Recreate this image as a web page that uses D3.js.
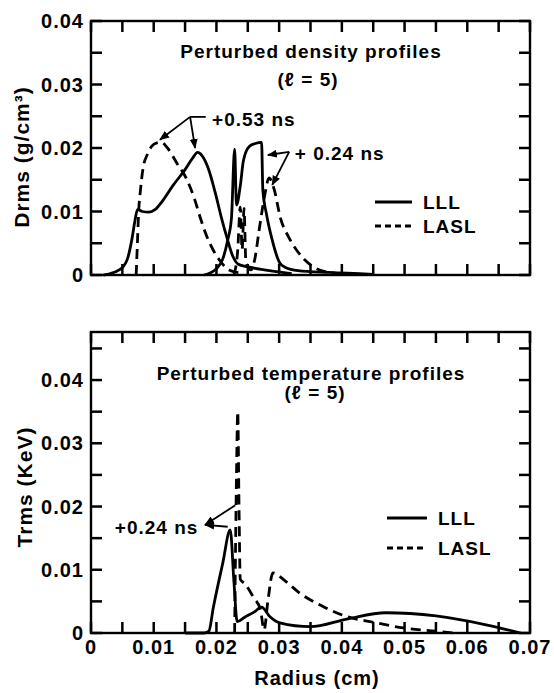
<!DOCTYPE html>
<html>
<head>
<meta charset="utf-8">
<script src="https://cdn.jsdelivr.net/npm/d3@7"></script>
<style>
  body { margin: 0; background: #fff; }
  text { font-family: "Liberation Sans", Arial, sans-serif; font-weight: bold; letter-spacing: 1px; fill: #000; }
</style>
</head>
<body>
<div id="chart"></div>
<script>
// radius (cm) vs rms perturbation
var radiusTicks = [0, 0.01, 0.02, 0.03, 0.04, 0.05, 0.06, 0.07];
var densityTicks = [0, 0.01, 0.02, 0.03, 0.04];
var tempTicks = [0, 0.01, 0.02, 0.03, 0.04];

// density profiles, +0.53 ns
var densLLL053 = [[0.002,0],[0.003,0.0002],[0.0045,0.0008],[0.0052,0.0014],[0.0058,0.0025],[0.0065,0.0055],[0.0070,0.0085],[0.0074,0.0103],[0.0082,0.0100],[0.0092,0.0099],[0.0102,0.0103],[0.0115,0.0118],[0.013,0.0140],[0.015,0.0166],[0.0162,0.0184],[0.0170,0.0193],[0.0177,0.0188],[0.0188,0.0165],[0.0198,0.0130],[0.0208,0.0090],[0.0217,0.0058],[0.0226,0.0030],[0.0235,0.0017],[0.026,0.0011],[0.029,0.0006],[0.032,0.0002]];
var densLASL053 = [[0.0072,0],[0.0074,0.005],[0.0076,0.0100],[0.0079,0.0135],[0.0083,0.0168],[0.0090,0.0190],[0.0097,0.0203],[0.0105,0.0208],[0.0112,0.0209],[0.0122,0.0200],[0.0137,0.0176],[0.0153,0.0150],[0.0165,0.0120],[0.0174,0.0091],[0.0185,0.0060],[0.0195,0.0039],[0.0206,0.0022],[0.022,0.0008],[0.024,0.0003]];
// density profiles, +0.24 ns
var densLLL024 = [[0.018,0],[0.019,0.0003],[0.020,0.0010],[0.021,0.0025],[0.0218,0.0055],[0.0224,0.0090],[0.0229,0.0198],[0.0232,0.0110],[0.0238,0.0140],[0.0243,0.0180],[0.0252,0.0202],[0.0262,0.0207],[0.0272,0.0209],[0.0274,0.0134],[0.0280,0.0095],[0.0289,0.0055],[0.0301,0.0019],[0.031,0.0012],[0.033,0.0007],[0.038,0.0004],[0.045,0.0001]];
var densLASL024 = [[0.0228,0],[0.0234,0.0040],[0.0238,0.0107],[0.0241,0.0040],[0.0244,0.0105],[0.0247,0.0020],[0.0255,0.0008],[0.0261,0.0024],[0.0268,0.0070],[0.0276,0.0120],[0.0284,0.0153],[0.0292,0.0135],[0.0302,0.0090],[0.0315,0.0060],[0.0328,0.0039],[0.035,0.0016],[0.037,0.0006],[0.040,0.0002]];
// temperature profiles, +0.24 ns
var tempLLL024 = [[0.015,0],[0.018,0],[0.0188,0.0003],[0.0195,0.0040],[0.0210,0.0110],[0.0222,0.0163],[0.0228,0.0080],[0.0233,0.0018],[0.0245,0.0025],[0.0260,0.0033],[0.0272,0.0041],[0.0285,0.0026],[0.0301,0.0016],[0.035,0.0010],[0.0408,0.0022],[0.047,0.0032],[0.055,0.0027],[0.063,0.0013],[0.0685,0]];
var tempLASL024 = [[0.0229,0],[0.0232,0.0250],[0.0234,0.0350],[0.0236,0.0200],[0.0238,0.0085],[0.0245,0.0078],[0.0260,0.0055],[0.0270,0.0038],[0.0276,0.0005],[0.0282,0.0050],[0.0290,0.0095],[0.0310,0.0082],[0.0333,0.0063],[0.037,0.0042],[0.0408,0.0026],[0.045,0.0017],[0.0498,0.0008],[0.055,0.0003],[0.058,0]];

var width = 554, height = 693;
var left = 91, right = 530;
var tickLen = 11;

var svg = d3.select('#chart')
    .append('svg')
    .attr('width', width)
    .attr('height', height);

svg.append('defs').append('marker')
    .attr('id', 'head')
    .attr('viewBox', '0 0 10 10')
    .attr('refX', 9).attr('refY', 5)
    .attr('markerWidth', 10).attr('markerHeight', 10)
    .attr('markerUnits', 'userSpaceOnUse')
    .attr('orient', 'auto-start-reverse')
    .append('path')
    .attr('d', 'M0,1 L10,5 L0,9 Z')
    .attr('fill', '#000');

var x = d3.scaleLinear().domain([0, 0.07]).range([left, right]);

var line = (y) => d3.line()
    .x(d => x(d[0]))
    .y(d => y(d[1]))
    .curve(d3.curveMonotoneX);

var fmt = (d) => d === 0 ? '0' : d.toFixed(2);
var steps = (n) => d3.range(0, n + 1).map(i => i * 0.005);

var drawPanel = (cfg) => {
    var y = d3.scaleLinear().domain([0, cfg.ymax]).range([cfg.bottom, cfg.top]);
    var g = svg.append('g');

    // inward ticks on all four sides, every 0.005
    var xs = steps(14), ys = steps(cfg.ysteps);
    var segs = [];
    xs.forEach(d => {
        segs.push([x(d), cfg.bottom, x(d), cfg.bottom - tickLen]);
        segs.push([x(d), cfg.top, x(d), cfg.top + tickLen]);
    });
    ys.forEach(d => {
        segs.push([left, y(d), left + tickLen, y(d)]);
        segs.push([right, y(d), right - tickLen, y(d)]);
    });
    g.selectAll('line.tk')
        .data(segs)
        .enter()
        .append('line')
        .attr('class', 'tk')
        .attr('x1', s => s[0]).attr('y1', s => s[1])
        .attr('x2', s => s[2]).attr('y2', s => s[3])
        .attr('stroke', '#000')
        .attr('stroke-width', 2.5);

    g.selectAll('text.ylab').data(cfg.yTicks).enter().append('text')
        .attr('class', 'ylab')
        .attr('x', left - 7).attr('y', d => y(d))
        .attr('dy', '0.36em')
        .attr('text-anchor', 'end')
        .attr('font-size', 20)
        .text(fmt);

    if (cfg.xLabels) {
        g.selectAll('text.xlab').data(radiusTicks).enter().append('text')
            .attr('class', 'xlab')
            .attr('x', d => x(d)).attr('y', cfg.bottom + 21)
            .attr('text-anchor', 'middle')
            .attr('font-size', 20)
            .text(fmt);
    }

    g.append('rect')
        .attr('x', left).attr('y', cfg.top)
        .attr('width', right - left).attr('height', cfg.bottom - cfg.top)
        .attr('fill', 'none').attr('stroke', '#000').attr('stroke-width', 2.4);

    cfg.series.forEach(s => {
        g.append('path')
            .datum(s.data)
            .attr('d', line(y))
            .attr('fill', 'none')
            .attr('stroke', '#000')
            .attr('stroke-width', 2.8)
            .attr('stroke-linejoin', 'round')
            .attr('stroke-dasharray', s.dashed ? '10,6' : null);
    });

    // titles
    g.append('text').attr('x', 311).attr('y', cfg.titleY)
        .attr('text-anchor', 'middle').attr('font-size', 19).text(cfg.title);
    g.append('text').attr('x', cfg.subX).attr('y', cfg.titleY + cfg.subDy)
        .attr('text-anchor', 'middle').attr('font-size', 19).text('(\u2113 = 5)');

    // y label
    g.append('text')
        .attr('transform', 'translate(' + cfg.ylabX + ',' + cfg.ylabY + ') rotate(-90)')
        .attr('text-anchor', 'middle').attr('font-size', 21).text(cfg.ylabel);

    // legend
    [['LLL', null], ['LASL', '6,4']].forEach((l, i) => {
        var ly = cfg.legY + i * cfg.legGap;
        g.append('line')
            .attr('x1', cfg.legX).attr('x2', cfg.legX + cfg.legW)
            .attr('y1', ly).attr('y2', ly)
            .attr('stroke', '#000').attr('stroke-width', 2.8)
            .attr('stroke-dasharray', l[1]);
        g.append('text').attr('x', cfg.legX + cfg.legW + 11).attr('y', ly + 7)
            .attr('font-size', 19).text(l[0]);
    });

    // time annotations with arrows
    cfg.notes.forEach(n => {
        g.append('text').attr('x', x(n.at[0])).attr('y', y(n.at[1]))
            .attr('font-size', 19).text(n.label);
        n.arrows.forEach(a => {
            var p = g.append('line')
                .attr('x1', x(n.from[0])).attr('y1', y(n.from[1]))
                .attr('x2', x(a[0])).attr('y2', y(a[1]))
                .attr('stroke', '#000').attr('stroke-width', 1.8);
            if (n.headAtStart) p.attr('marker-start', 'url(#head)');
            else p.attr('marker-end', 'url(#head)');
        });
        if (n.bar) {
            g.append('line')
                .attr('x1', x(n.from[0])).attr('y1', y(n.from[1]))
                .attr('x2', x(n.bar)).attr('y2', y(n.from[1]))
                .attr('stroke', '#000').attr('stroke-width', 1.8);
        }
    });
};

drawPanel({
    top: 21, bottom: 275, ymax: 0.04, ysteps: 8, yTicks: densityTicks,
    title: 'Perturbed density profiles', titleY: 58, subX: 308, subDy: 28,
    ylabel: 'Drms (g/cm\u00b3)', ylabX: 29, ylabY: 157,
    legX: 375, legW: 37, legY: 202, legGap: 24,
    series: [
        { data: densLLL053 }, { data: densLASL053, dashed: true },
        { data: densLLL024 }, { data: densLASL024, dashed: true }
    ],
    notes: [
        { label: '+0.53 ns', at: [0.0193, 0.0235], from: [0.0158, 0.0249], bar: 0.0183,
          arrows: [[0.0110, 0.0213], [0.0166, 0.0200]] },
        { label: '+ 0.24 ns', at: [0.0325, 0.0181], from: [0.0316, 0.0194],
          arrows: [[0.0282, 0.0189], [0.0289, 0.0142]] }
    ]
});

drawPanel({
    top: 332, bottom: 633, ymax: 0.0476, ysteps: 9, yTicks: tempTicks, xLabels: true,
    title: 'Perturbed temperature profiles', titleY: 380, subX: 315, subDy: 19,
    ylabel: 'Trms (KeV)', ylabX: 32, ylabY: 487,
    legX: 387, legW: 40, legY: 518, legGap: 30,
    series: [
        { data: tempLLL024 }, { data: tempLASL024, dashed: true }
    ],
    notes: [
        { label: '+0.24 ns', at: [0.0038, 0.0157], from: [0.0182, 0.0171], headAtStart: true,
          arrows: [[0.0230, 0.0202], [0.0218, 0.0168]] }
    ]
});

svg.append('text')
    .attr('x', 317).attr('y', 685)
    .attr('text-anchor', 'middle').attr('font-size', 20)
    .text('Radius (cm)');
</script>
</body>
</html>
